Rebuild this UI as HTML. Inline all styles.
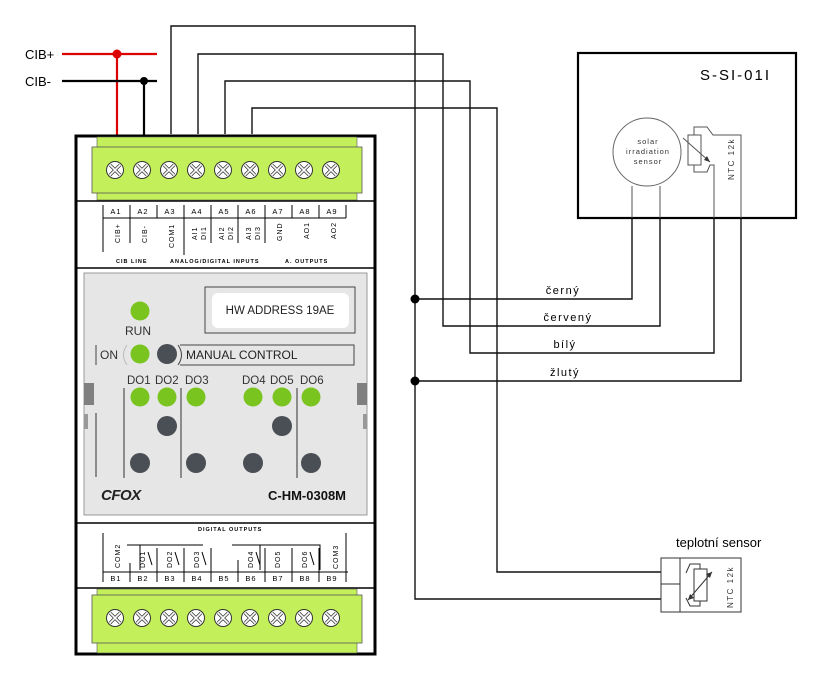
<!DOCTYPE html>
<html><head><meta charset="utf-8"><style>
html,body{margin:0;padding:0;background:#fff}
svg{display:block}
text{font-family:"Liberation Sans",sans-serif}
</style></head><body>
<svg width="825" height="680" viewBox="0 0 825 680" xmlns="http://www.w3.org/2000/svg">
<defs>
<g id="screw">
<circle r="8.5" fill="#fff" stroke="#333" stroke-width="1"/>
<path d="M-5,-5 L5,5 M-5,5 L5,-5" stroke="#333" stroke-width="3.2"/>
<path d="M-5,-5 L5,5 M-5,5 L5,-5" stroke="#fff" stroke-width="1.6"/>
</g>
</defs>
<!-- wires to sensors -->
<g fill="none" stroke="#111" stroke-width="1.4">
<path d="M171,134 V26 H415 V599 H661"/>
<path d="M198,134 V54 H443 V326 H660 V218"/>
<path d="M225,134 V81 H470 V353 H714 V218"/>
<path d="M252,134 V108 H497 V572 H661"/>
<path d="M415,299 H632 V218"/>
<path d="M415,381 H741 V218"/>
</g>
<circle cx="415" cy="299" r="4.5" fill="#000"/>
<circle cx="415" cy="381" r="4.5" fill="#000"/>
<g font-size="11" letter-spacing="1.5" text-anchor="middle">
<text x="563" y="294">černý</text>
<text x="568" y="321">červený</text>
<text x="565" y="348">bílý</text>
<text x="565" y="376">žlutý</text>
</g>
<!-- CIB -->
<text x="25" y="59" font-size="13">CIB+</text>
<text x="25" y="86" font-size="13">CIB-</text>
<path d="M62,54 H157 M117,54 V137" stroke="#d00" stroke-width="2.2" fill="none"/>
<circle cx="117" cy="54" r="4.5" fill="#d00"/>
<path d="M62,81 H157 M144,81 V137" stroke="#000" stroke-width="2.2" fill="none"/>
<circle cx="144" cy="81" r="4" fill="#000"/>
<!-- module -->
<rect x="76" y="136" width="299" height="518" fill="#fff" stroke="#000" stroke-width="3"/>
<rect x="97" y="137" width="260" height="63" fill="#c3f05a" stroke="#555" stroke-width="0.6"/>
<rect x="92" y="147" width="270" height="46" fill="#c3f05a" stroke="#555" stroke-width="0.8"/>
<g>
<use href="#screw" x="115" y="170"/><use href="#screw" x="142" y="170"/><use href="#screw" x="169" y="170"/>
<use href="#screw" x="196" y="170"/><use href="#screw" x="223" y="170"/><use href="#screw" x="250" y="170"/>
<use href="#screw" x="277" y="170"/><use href="#screw" x="304" y="170"/><use href="#screw" x="331" y="170"/>
</g>
<line x1="76" y1="201" x2="375" y2="201" stroke="#000" stroke-width="1.5"/>
<!-- top labels -->
<g stroke="#000" stroke-width="1">
<line x1="103" y1="205" x2="348" y2="205" stroke="none"/>
<line x1="103" y1="218" x2="346" y2="218"/>
<path d="M103,205 V252 M130,205 V243 M157,205 V218 M184,205 V255 M211,205 V243 M238,205 V243 M265,205 V243 M292,205 V218 M319,205 V218 M346,205 V218"/>
</g>
<g font-size="7.5" text-anchor="middle" letter-spacing="1">
<text x="116" y="214">A1</text><text x="143" y="214">A2</text><text x="170" y="214">A3</text>
<text x="197" y="214">A4</text><text x="224" y="214">A5</text><text x="251" y="214">A6</text>
<text x="278" y="214">A7</text><text x="305" y="214">A8</text><text x="332" y="214">A9</text>
</g>
<g font-size="7" letter-spacing="1">
<text transform="translate(120,243) rotate(-90)">CIB+</text>
<text transform="translate(147,243) rotate(-90)">CIB-</text>
<text transform="translate(174,248) rotate(-90)">COM1</text>
<text transform="translate(197,240) rotate(-90)">AI1</text><text transform="translate(206,240) rotate(-90)">DI1</text>
<text transform="translate(224,240) rotate(-90)">AI2</text><text transform="translate(233,240) rotate(-90)">DI2</text>
<text transform="translate(251,240) rotate(-90)">AI3</text><text transform="translate(260,240) rotate(-90)">DI3</text>
<text transform="translate(282,241) rotate(-90)">GND</text>
<text transform="translate(309,239) rotate(-90)">AO1</text>
<text transform="translate(336,239) rotate(-90)">AO2</text>
</g>
<g font-size="5.5" font-weight="bold" letter-spacing="1">
<text x="116" y="263">CIB LINE</text>
<text x="170" y="263">ANALOG/DIGITAL INPUTS</text>
<text x="285" y="263">A. OUTPUTS</text>
</g>
<line x1="76" y1="268" x2="375" y2="268" stroke="#000" stroke-width="1.5"/>
<!-- panel -->
<rect x="84" y="273" width="283" height="242" fill="#e6e6e6" stroke="#999" stroke-width="1"/>
<rect x="84" y="383" width="10" height="22" fill="#808080"/>
<rect x="357" y="383" width="10" height="22" fill="#808080"/>
<rect x="84" y="414" width="4" height="15" fill="#999"/>
<rect x="363" y="414" width="4" height="15" fill="#999"/>
<rect x="205" y="287" width="150" height="46" fill="none" stroke="#444" stroke-width="1"/>
<rect x="212" y="293" width="137" height="35" rx="6" fill="#fff"/>
<text x="280" y="314" font-size="11.5" text-anchor="middle" fill="#222">HW ADDRESS 19AE</text>
<circle cx="140" cy="311" r="9.5" fill="#7ac420"/>
<text x="125" y="335" font-size="12" fill="#333">RUN</text>
<line x1="96" y1="345" x2="96" y2="365" stroke="#444"/>
<text x="100" y="359" font-size="12" fill="#333">ON</text>
<path d="M127,345 Q120,355 127,365" fill="none" stroke="#bbb" stroke-width="1"/>
<circle cx="140" cy="354" r="9.5" fill="#7ac420"/>
<circle cx="167" cy="354" r="10" fill="#4a4f55"/>
<path d="M180,345 H354 V365 H180" fill="none" stroke="#444" stroke-width="1"/>
<path d="M178,345 Q185,355 178,365" fill="none" stroke="#444" stroke-width="1"/>
<text x="186" y="359" font-size="12" fill="#222">MANUAL CONTROL</text>
<g font-size="11.5" fill="#333">
<text x="127" y="384">DO1</text><text x="155" y="384">DO2</text><text x="185" y="384">DO3</text>
<text x="242" y="384">DO4</text><text x="270" y="384">DO5</text><text x="300" y="384">DO6</text>
</g>
<g stroke="#333" stroke-width="1">
<path d="M96,413 V477 M124,388 V478 M181,388 V478 M297,388 V478"/>
</g>
<g fill="#7ac420">
<circle cx="140" cy="397" r="9.5"/><circle cx="167" cy="397" r="9.5"/><circle cx="196" cy="397" r="9.5"/>
<circle cx="253" cy="397" r="9.5"/><circle cx="282" cy="397" r="9.5"/><circle cx="311" cy="397" r="9.5"/>
</g>
<g fill="#4a4f55">
<circle cx="167" cy="426" r="10"/><circle cx="282" cy="426" r="10"/>
<circle cx="140" cy="463" r="10"/><circle cx="196" cy="463" r="10"/><circle cx="253" cy="463" r="10"/><circle cx="311" cy="463" r="10"/>
</g>
<text x="101" y="500" font-size="15" font-weight="bold" font-style="italic" fill="#222" letter-spacing="-0.5">CFOX</text>
<text x="268" y="500" font-size="13" font-weight="bold" fill="#111">C-HM-0308M</text>
<line x1="76" y1="523" x2="375" y2="523" stroke="#000" stroke-width="1.5"/>
<!-- bottom labels -->
<text x="198" y="531" font-size="5.5" font-weight="bold" letter-spacing="1">DIGITAL OUTPUTS</text>
<g stroke="#000" stroke-width="1" fill="none">
<line x1="103" y1="572" x2="348" y2="572"/>
<path d="M103,533 V582 M130,563 V582 M157,548 V582 M184,548 V582 M211,548 V582 M238,560 V582 M265,548 V582 M292,548 V582 M319,548 V582 M346,533 V582"/>
<path d="M127,545 H203 M140,545 V570 M232,545 H320 V570 M260,545 V570"/>
<path d="M148,552 L152,565 M175,552 L179,565 M202,552 L206,565 M256,552 L260,565 M310,552 L314,565"/>
</g>
<g font-size="7" letter-spacing="1">
<text transform="translate(120,568) rotate(-90)">COM2</text>
<text transform="translate(145,568) rotate(-90)">DO1</text>
<text transform="translate(172,568) rotate(-90)">DO2</text>
<text transform="translate(199,568) rotate(-90)">DO3</text>
<text transform="translate(253,568) rotate(-90)">DO4</text>
<text transform="translate(280,568) rotate(-90)">DO5</text>
<text transform="translate(307,568) rotate(-90)">DO6</text>
<text transform="translate(338,569) rotate(-90)">COM3</text>
</g>
<g font-size="7.5" text-anchor="middle" letter-spacing="1">
<text x="116" y="581">B1</text><text x="143" y="581">B2</text><text x="170" y="581">B3</text>
<text x="197" y="581">B4</text><text x="224" y="581">B5</text><text x="251" y="581">B6</text>
<text x="278" y="581">B7</text><text x="305" y="581">B8</text><text x="332" y="581">B9</text>
</g>
<line x1="76" y1="588" x2="375" y2="588" stroke="#000" stroke-width="1.5"/>
<rect x="97" y="589" width="260" height="64" fill="#c3f05a" stroke="#555" stroke-width="0.6"/>
<rect x="92" y="595" width="270" height="48" fill="#c3f05a" stroke="#555" stroke-width="0.8"/>
<g>
<use href="#screw" x="115" y="618"/><use href="#screw" x="142" y="618"/><use href="#screw" x="169" y="618"/>
<use href="#screw" x="196" y="618"/><use href="#screw" x="223" y="618"/><use href="#screw" x="250" y="618"/>
<use href="#screw" x="277" y="618"/><use href="#screw" x="304" y="618"/><use href="#screw" x="331" y="618"/>
</g>
<!-- S-SI-01I -->
<rect x="578" y="53" width="218" height="165" fill="#fff" stroke="#000" stroke-width="2.2"/>
<text x="700" y="80" font-size="15" letter-spacing="2">S-SI-01I</text>
<circle cx="647" cy="152" r="34" fill="#fff" stroke="#666" stroke-width="1"/>
<g font-size="7.5" text-anchor="middle" letter-spacing="1" fill="#333">
<text x="648" y="144">solar</text><text x="648" y="154">irradiation</text><text x="648" y="164">sensor</text>
</g>
<g stroke="#555" stroke-width="1" fill="none">
<path d="M632,186 V218 M660,186 V218"/>
<rect x="688" y="135" width="13" height="30"/>
<path d="M694,135 V127 H707 L713,135 H741 V218"/>
<path d="M694,165 V172 H707 L710,165 H714 V218"/>
<path d="M683,138 L710,162"/>
</g>
<path d="M710,162 L704,160 L707,156 Z" fill="#333"/>
<text transform="translate(734,180) rotate(-90)" font-size="8" letter-spacing="1.5" fill="#333">NTC 12k</text>
<!-- teplotni sensor -->
<text x="676" y="547" font-size="13">teplotní sensor</text>
<rect x="661" y="558" width="80" height="54" fill="#fff" stroke="#333" stroke-width="1"/>
<path d="M661,584 H680 M680,558 V612" stroke="#333" stroke-width="1"/>
<g stroke="#333" stroke-width="1" fill="none">
<rect x="694" y="569" width="13" height="32"/>
<path d="M700,569 V564 H690 L686,573 M700,601 V606 H690 L686,598"/>
<path d="M688,600 L712,572"/>
</g>
<path d="M712,572 L706,574 L710,578 Z" fill="#333"/>
<path d="M688,600 L694,598 L690,594 Z" fill="#333"/>
<text transform="translate(733,608) rotate(-90)" font-size="8" letter-spacing="1.5" fill="#333">NTC 12k</text>
</svg>
</body></html>
